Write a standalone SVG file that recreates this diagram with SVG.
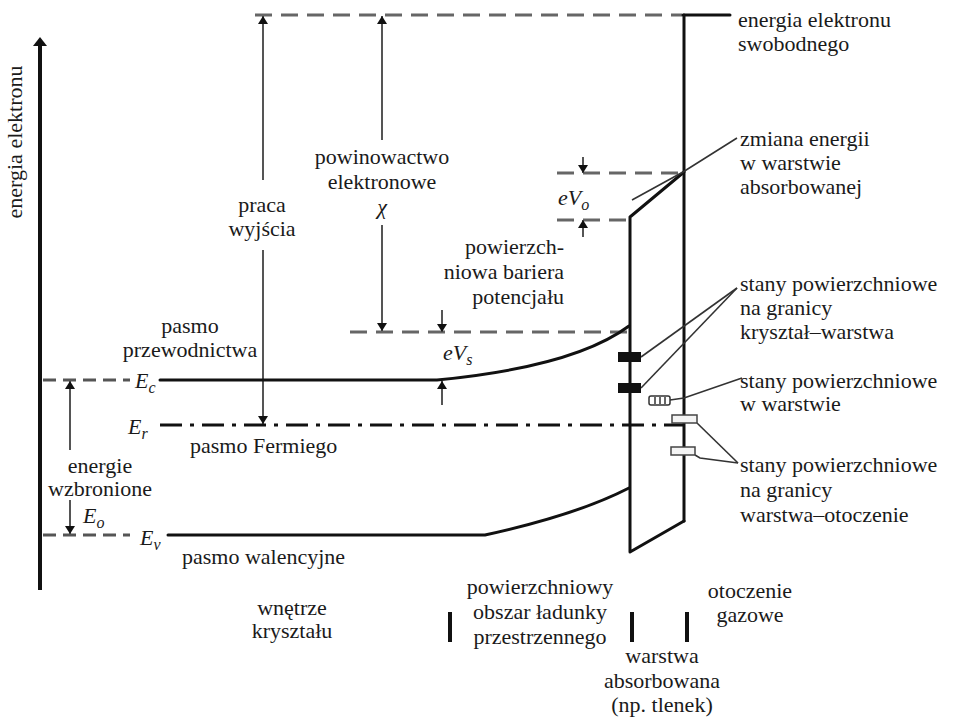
<svg xmlns="http://www.w3.org/2000/svg" width="956" height="718" viewBox="0 0 956 718">
<style>
text{font-family:"Liberation Serif","Times New Roman",serif;font-size:22px;fill:#1a1a1a}
.it{font-style:italic}
.mid{text-anchor:middle}
.end{text-anchor:end}
.solid{stroke:#111;stroke-width:3;fill:none;stroke-linecap:round;stroke-linejoin:round}
.dash{stroke:#666;stroke-width:3;fill:none;stroke-dasharray:17 9}
.dashs{stroke:#555;stroke-width:3;fill:none;stroke-dasharray:13 7}
.dd{stroke:#111;stroke-width:3;fill:none;stroke-dasharray:22 8 4 8}
.arr{stroke:#555;stroke-width:2;fill:none}
.lead{stroke:#333;stroke-width:1.6;fill:none}
.tick{stroke:#111;stroke-width:4;fill:none}
</style>
<defs>
<marker id="ah" viewBox="0 0 8 10" refX="8" refY="5" markerWidth="8" markerHeight="10" markerUnits="userSpaceOnUse" orient="auto-start-reverse">
<path d="M0,0 L8,5 L0,10 z" fill="#111"/>
</marker>
</defs>
<g id="connectors">
<line x1="40" y1="44" x2="40" y2="590" stroke="#111" stroke-width="4"/>
<path d="M40,37 L47,46 L33,46 z" fill="#111"/>
<line class="dash" x1="255" y1="15" x2="682" y2="15"/>
<line class="solid" x1="683" y1="15" x2="730" y2="15"/>
<line class="solid" x1="684" y1="15" x2="684" y2="521"/>
<path class="solid" d="M684,172 L630,217 L630,552 L684,521"/>
<line class="dash" x1="557" y1="173" x2="682" y2="173"/>
<line class="dash" x1="557" y1="220" x2="628" y2="220"/>
<line class="arr" x1="583" y1="157" x2="583" y2="173" marker-end="url(#ah)"/>
<line class="arr" x1="583" y1="237" x2="583" y2="220" marker-end="url(#ah)"/>
<line class="dash" x1="350" y1="332" x2="628" y2="332"/>
<line class="arr" x1="442" y1="310" x2="442" y2="332" marker-end="url(#ah)"/>
<line class="arr" x1="442" y1="405" x2="442" y2="381" marker-end="url(#ah)"/>
<line class="arr" x1="263" y1="180" x2="263" y2="16" marker-end="url(#ah)"/>
<line class="arr" x1="263" y1="250" x2="263" y2="424" marker-end="url(#ah)"/>
<line class="arr" x1="382" y1="140" x2="382" y2="16" marker-end="url(#ah)"/>
<line class="arr" x1="382" y1="225" x2="382" y2="331" marker-end="url(#ah)"/>
<line class="dashs" x1="43" y1="380" x2="130" y2="380"/>
<path class="solid" d="M160,380 L437,380 C520,372 590,355 629,326"/>
<line class="dd" x1="160" y1="425" x2="683" y2="425"/>
<line class="dashs" x1="43" y1="535" x2="130" y2="535"/>
<path class="solid" d="M168,535 L485,535 C540,523 590,508 629,488"/>
<line class="arr" x1="70" y1="450" x2="70" y2="381" marker-end="url(#ah)"/>
<line class="arr" x1="70" y1="500" x2="70" y2="534" marker-end="url(#ah)"/>
<polyline class="lead" points="632,200 683,172 737,138"/>
<polyline class="lead" points="641,357 737,288"/>
<polyline class="lead" points="641,388 737,288"/>
<polyline class="lead" points="670,400 684,398 742,378"/>
<polyline class="lead" points="697,423 738,463"/>
<polyline class="lead" points="695,455 700,458 738,463"/>
<line class="tick" x1="450" y1="612" x2="450" y2="642"/>
<line class="tick" x1="632" y1="612" x2="632" y2="642"/>
<line class="tick" x1="687" y1="612" x2="687" y2="642"/>
</g>
<g id="states-crystal-layer">
<rect x="618" y="352" width="23" height="10" fill="#111"/>
<rect x="618" y="383" width="23" height="10" fill="#111"/>
</g>
<g id="states-layer">
<rect x="649" y="396" width="21" height="9" rx="2" fill="#fff" stroke="#333" stroke-width="1.5"/>
<line x1="655" y1="397" x2="655" y2="404" stroke="#333" stroke-width="1.5"/>
<line x1="660" y1="397" x2="660" y2="404" stroke="#333" stroke-width="1.5"/>
<line x1="665" y1="397" x2="665" y2="404" stroke="#333" stroke-width="1.5"/>
</g>
<g id="states-layer-ambient">
<rect x="672" y="415" width="25" height="8" fill="#f4f4f4" stroke="#444" stroke-width="1.5"/>
<rect x="671" y="447" width="24" height="8" fill="#f4f4f4" stroke="#444" stroke-width="1.5"/>
</g>
<g id="label-axis"><text class="mid" transform="translate(22,142) rotate(-90)">energia elektronu</text></g>
<g id="label-free"><text x="738" y="27">energia elektronu</text><text x="738" y="51">swobodnego</text></g>
<g id="label-change"><text x="740" y="146">zmiana energii</text><text x="740" y="170">w warstwie</text><text x="740" y="194">absorbowanej</text></g>
<g id="label-states1"><text x="740" y="291">stany powierzchniowe</text><text x="740" y="315">na granicy</text><text x="740" y="339">kryształ–warstwa</text></g>
<g id="label-states2"><text x="740" y="388">stany powierzchniowe</text><text x="740" y="411">w warstwie</text></g>
<g id="label-states3"><text x="740" y="472">stany powierzchniowe</text><text x="740" y="497">na granicy</text><text x="740" y="522">warstwa–otoczenie</text></g>
<g id="label-affinity"><text class="mid" x="382" y="164">powinowactwo</text><text class="mid" x="382" y="189">elektronowe</text><text class="mid it" x="382" y="214">χ</text></g>
<g id="label-work"><text class="mid" x="262" y="212">praca</text><text class="mid" x="262" y="236">wyjścia</text></g>
<g id="label-barrier"><text class="end" x="564" y="254">powierzch-</text><text class="end" x="564" y="279">niowa bariera</text><text class="end" x="564" y="304">potencjału</text></g>
<g id="label-eVo"><text class="it" x="558" y="205">eV<tspan font-size="16" dy="5">o</tspan></text></g>
<g id="label-eVs"><text class="it" x="443" y="360">eV<tspan font-size="16" dy="5">s</tspan></text></g>
<g id="label-cb"><text class="mid" x="190" y="333">pasmo</text><text class="mid" x="190" y="357">przewodnictwa</text></g>
<g id="label-Ec"><text class="it" x="135" y="388">E<tspan font-size="16" dy="5">c</tspan></text></g>
<g id="label-Er"><text class="it" x="128" y="434">E<tspan font-size="16" dy="5">r</tspan></text></g>
<g id="label-fermi"><text x="190" y="453">pasmo Fermiego</text></g>
<g id="label-gap"><text class="mid" x="100" y="473">energie</text><text class="mid" x="100" y="496">wzbronione</text></g>
<g id="label-Eo"><text class="it" x="83" y="523">E<tspan font-size="16" dy="5">o</tspan></text></g>
<g id="label-Ev"><text class="it" x="140" y="545">E<tspan font-size="16" dy="5">v</tspan></text></g>
<g id="label-vb"><text x="182" y="564">pasmo walencyjne</text></g>
<g id="label-interior"><text class="mid" x="292" y="615">wnętrze</text><text class="mid" x="292" y="638">kryształu</text></g>
<g id="label-sc"><text class="mid" x="540" y="594">powierzchniowy</text><text class="mid" x="540" y="619">obszar ładunky</text><text class="mid" x="540" y="644">przestrzennego</text></g>
<g id="label-gas"><text class="mid" x="750" y="598">otoczenie</text><text class="mid" x="750" y="622">gazowe</text></g>
<g id="label-layer"><text class="mid" x="662" y="663">warstwa</text><text class="mid" x="662" y="688">absorbowana</text><text class="mid" x="662" y="712">(np. tlenek)</text></g>
</svg>
